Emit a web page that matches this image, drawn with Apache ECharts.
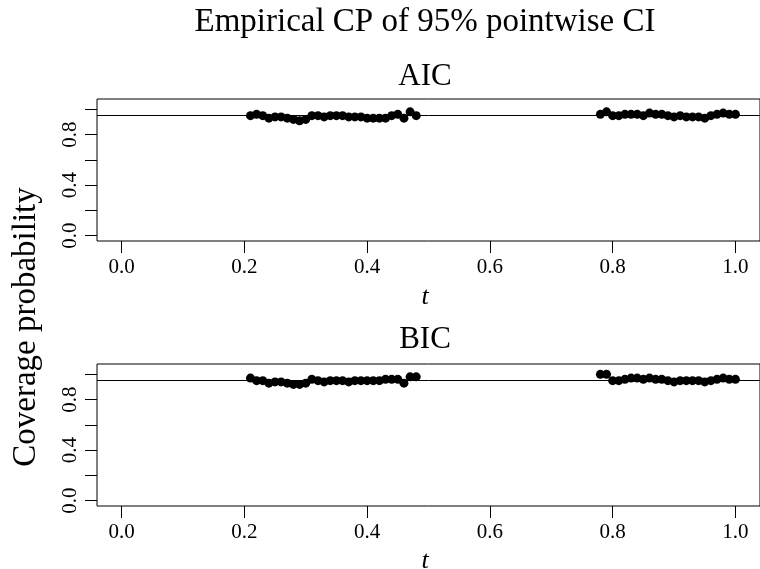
<!DOCTYPE html>
<html>
<head>
<meta charset="utf-8">
<script src="https://cdn.jsdelivr.net/npm/echarts@6/dist/echarts.min.js"></script>
<style>html,body{margin:0;padding:0;background:#fff}#c{width:760px;height:569px}</style>
</head>
<body>
<div id="c"></div>
<script>
// Data
const tLeft = [0.21,0.22,0.23,0.24,0.25,0.26,0.27,0.28,0.29,0.30,0.31,0.32,0.33,0.34,0.35,0.36,0.37,0.38,0.39,0.40,0.41,0.42,0.43,0.44,0.45,0.46,0.47,0.48];
const tRight = [0.78,0.79,0.80,0.81,0.82,0.83,0.84,0.85,0.86,0.87,0.88,0.89,0.90,0.91,0.92,0.93,0.94,0.95,0.96,0.97,0.98,0.99,1.00];
const aicLeft = [0.95,0.96,0.95,0.93,0.94,0.94,0.93,0.92,0.91,0.92,0.95,0.95,0.94,0.95,0.95,0.95,0.94,0.94,0.94,0.93,0.93,0.93,0.93,0.95,0.96,0.93,0.98,0.95];
const aicRight = [0.96,0.98,0.95,0.95,0.96,0.96,0.96,0.95,0.97,0.96,0.96,0.95,0.94,0.95,0.94,0.94,0.94,0.93,0.95,0.96,0.97,0.96,0.96];
const bicLeft = [0.97,0.95,0.95,0.93,0.94,0.94,0.93,0.92,0.92,0.93,0.96,0.95,0.94,0.95,0.95,0.95,0.94,0.95,0.95,0.95,0.95,0.95,0.96,0.96,0.96,0.93,0.98,0.98];
const bicRight = [1.00,1.00,0.95,0.95,0.96,0.97,0.97,0.96,0.97,0.96,0.96,0.95,0.94,0.95,0.95,0.95,0.95,0.94,0.95,0.96,0.97,0.96,0.96];
const nominal = 0.95;
const xTicks = [0.0,0.2,0.4,0.6,0.8,1.0];
const yTicks = [0.0,0.2,0.4,0.6,0.8,1.0];
const yLabels = [0.0,0.4,0.8];
const panelTitles = ['AIC','BIC'];
const mainTitle = 'Empirical CP of 95% pointwise CI';
const yTitle = 'Coverage probability';

const FONT = 'Liberation Serif';
const chart = echarts.init(document.getElementById('c'), null, {renderer:'canvas'});
const pairs = (xs, ys) => xs.map((x,i)=>[x, ys[i]]);

function xAxisFor(i){
  return {
    gridIndex:i, type:'value', min:-0.04, max:1.04, position:'bottom',
    axisLine:{show:false, onZero:false},
    splitLine:{show:false},
    axisTick:{show:true, customValues:xTicks, length:12, lineStyle:{color:'#000', width:1}},
    axisLabel:{show:true, customValues:xTicks, formatter:v=>v.toFixed(1), color:'#000', fontFamily:FONT, fontSize:21, margin:16}
  };
}
function yAxisFor(i){
  return {
    gridIndex:i, type:'value', min:-0.0416, max:1.0816, position:'left',
    axisLine:{show:false, onZero:false},
    splitLine:{show:false},
    axisTick:{show:true, customValues:yTicks, length:12, lineStyle:{color:'#000', width:1}},
    axisLabel:{show:true, customValues:yLabels, formatter:v=>v.toFixed(1), rotate:90, color:'#000', fontFamily:FONT, fontSize:21, margin:16}
  };
}
function scatter(i, data){
  return {type:'scatter', xAxisIndex:i, yAxisIndex:i, data:data, symbol:'circle', symbolSize:9,
    itemStyle:{color:'#000', opacity:1}, silent:true};
}
const series = [];
[[aicLeft,aicRight],[bicLeft,bicRight]].forEach((p,i)=>{
  const s1 = scatter(i, pairs(tLeft,p[0]));
  s1.markLine = {silent:true, symbol:'none', label:{show:false}, lineStyle:{color:'#000', width:1, type:'solid', opacity:1}, data:[{yAxis:nominal}], z:1};
  series.push(s1);
  series.push(scatter(i, pairs(tRight,p[1])));
});

const grids = [
  {left:97, top:99, width:667, height:142, show:true, borderColor:'#000', borderWidth:1, backgroundColor:'transparent'},
  {left:97, top:364, width:667, height:142, show:true, borderColor:'#000', borderWidth:1, backgroundColor:'transparent'}
];

const graphic = [
  {type:'text', x:425, y:22, style:{text:mainTitle, fontFamily:FONT, fontSize:33, fill:'#000', textAlign:'center', textVerticalAlign:'middle'}},
  {type:'text', x:425, y:77, style:{text:panelTitles[0], fontFamily:FONT, fontSize:31, fill:'#000', textAlign:'center', textVerticalAlign:'middle'}},
  {type:'text', x:425, y:340, style:{text:panelTitles[1], fontFamily:FONT, fontSize:31, fill:'#000', textAlign:'center', textVerticalAlign:'middle'}},
  {type:'text', x:425, y:297, style:{text:'t', fontFamily:FONT, fontStyle:'italic', fontSize:26, fill:'#000', textAlign:'center', textVerticalAlign:'middle'}},
  {type:'text', x:425, y:561, style:{text:'t', fontFamily:FONT, fontStyle:'italic', fontSize:26, fill:'#000', textAlign:'center', textVerticalAlign:'middle'}},
  {type:'text', x:26, y:327, rotation:Math.PI/2, style:{text:yTitle, fontFamily:FONT, fontSize:33, fill:'#000', textAlign:'center', textVerticalAlign:'middle'}}
];

chart.setOption({
  animation:false,
  backgroundColor:'#fff',
  grid:grids,
  xAxis:[xAxisFor(0), xAxisFor(1)],
  yAxis:[yAxisFor(0), yAxisFor(1)],
  series:series,
  graphic:graphic
});
</script>
</body>
</html>
